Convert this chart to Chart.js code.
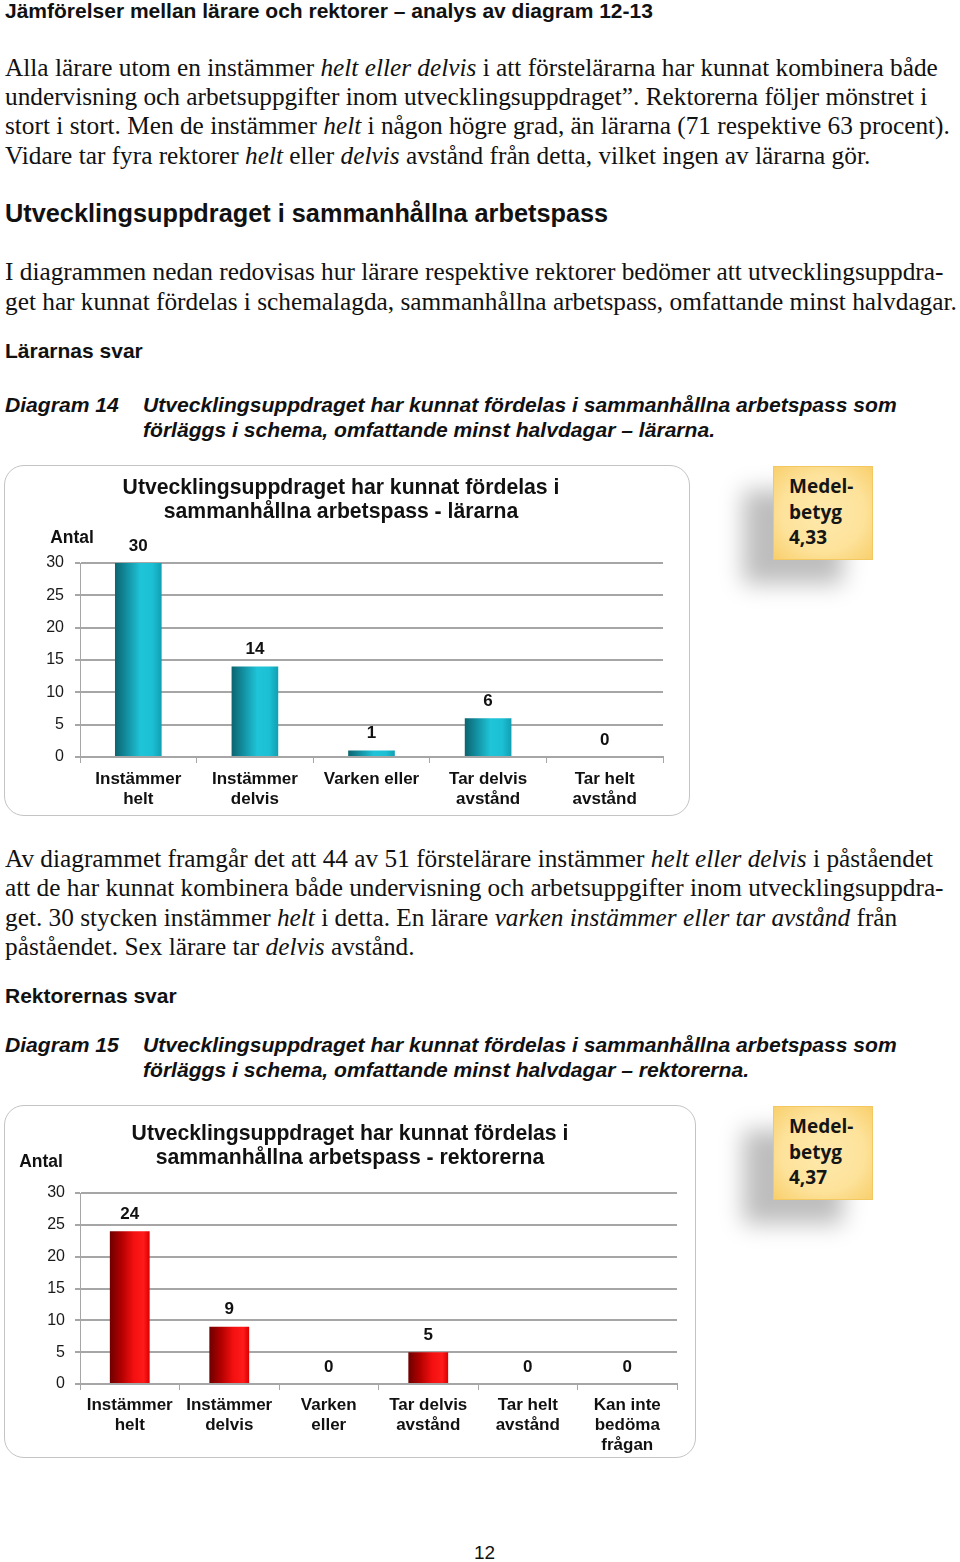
<!DOCTYPE html>
<html lang="sv">
<head>
<meta charset="utf-8">
<script src="https://cdn.jsdelivr.net/npm/chart.js@4/dist/chart.umd.min.js"></script>
<style>
  html,body{margin:0;padding:0;background:#fff;}
  body{width:960px;height:1562px;position:relative;overflow:hidden;color:#111;}
  .ln{position:absolute;left:5px;white-space:nowrap;}
  .serif{font-family:"Liberation Serif","Times New Roman",serif;font-size:25.3px;line-height:30px;}
  .h{font-family:"Liberation Sans",Arial,sans-serif;font-weight:bold;}
  .cap{font-family:"Liberation Sans",Arial,sans-serif;font-weight:bold;font-style:italic;font-size:21.1px;line-height:25px;}
  .box{position:absolute;border:1px solid #c4c4c4;border-radius:20px;box-sizing:border-box;}
  .cv{position:absolute;}
  .medel{position:absolute;width:100px;height:94px;box-sizing:border-box;
    background:radial-gradient(ellipse at 50% 50%, #fee9ac 0%, #fde29a 60%, #f8cf6c 100%);
    border:1px solid #f3c860;
    box-shadow:-30px 24px 22px rgba(0,0,0,0.26);
    font-family:"Open Sans","Lato",sans-serif;font-weight:bold;font-size:19px;line-height:25.5px;color:#151515;
    padding:7px 0 0 15px;}
</style>
</head>
<body>
<div class="ln h" style="top:0px;font-size:21px;line-height:22px;">Jämförelser mellan lärare och rektorer – analys av diagram 12-13</div>

<div class="ln serif" style="top:52px;">Alla lärare utom en instämmer <i>helt eller delvis</i> i att förstelärarna har kunnat kombinera både</div>
<div class="ln serif" style="top:81px;">undervisning och arbetsuppgifter inom utvecklingsuppdraget”. Rektorerna följer mönstret i</div>
<div class="ln serif" style="top:110px;">stort i stort. Men de instämmer <i>helt</i> i någon högre grad, än lärarna (71 respektive 63 procent).</div>
<div class="ln serif" style="top:140px;">Vidare tar fyra rektorer <i>helt</i> eller <i>delvis</i> avstånd från detta, vilket ingen av lärarna gör.</div>

<div class="ln h" style="top:198px;font-size:25.3px;line-height:30px;">Utvecklingsuppdraget i sammanhållna arbetspass</div>

<div class="ln serif" style="top:256px;">I diagrammen nedan redovisas hur lärare respektive rektorer bedömer att utvecklingsuppdra-</div>
<div class="ln serif" style="top:286px;">get har kunnat fördelas i schemalagda, sammanhållna arbetspass, omfattande minst halvdagar.</div>

<div class="ln h" style="top:338px;font-size:21px;line-height:26px;">Lärarnas svar</div>

<div class="ln cap" style="top:392px;">Diagram 14</div>
<div class="ln cap" style="top:392px;left:143px;">Utvecklingsuppdraget har kunnat fördelas i sammanhållna arbetspass som</div>
<div class="ln cap" style="top:417px;left:143px;">förläggs i schema, omfattande minst halvdagar – lärarna.</div>

<div class="box" style="left:4px;top:465px;width:686px;height:351px;"></div>
<div class="cv" style="left:4px;top:465px;width:686px;height:351px;"><canvas id="c1"></canvas></div>
<div class="medel" style="left:773px;top:466px;">Medel-<br>betyg<br>4,33</div>

<div class="ln serif" style="top:843px;">Av diagrammet framgår det att 44 av 51 förstelärare instämmer <i>helt eller delvis</i> i påståendet</div>
<div class="ln serif" style="top:872px;">att de har kunnat kombinera både undervisning och arbetsuppgifter inom utvecklingsuppdra-</div>
<div class="ln serif" style="top:902px;">get. 30 stycken instämmer <i>helt</i> i detta. En lärare <i>varken instämmer eller tar avstånd</i> från</div>
<div class="ln serif" style="top:931px;">påståendet. Sex lärare tar <i>delvis</i> avstånd.</div>

<div class="ln h" style="top:983px;font-size:21px;line-height:26px;">Rektorernas svar</div>

<div class="ln cap" style="top:1032px;">Diagram 15</div>
<div class="ln cap" style="top:1032px;left:143px;">Utvecklingsuppdraget har kunnat fördelas i sammanhållna arbetspass som</div>
<div class="ln cap" style="top:1057px;left:143px;">förläggs i schema, omfattande minst halvdagar – rektorerna.</div>

<div class="box" style="left:4px;top:1105px;width:692px;height:353px;"></div>
<div class="cv" style="left:4px;top:1105px;width:692px;height:353px;"><canvas id="c2"></canvas></div>
<div class="medel" style="left:773px;top:1106px;">Medel-<br>betyg<br>4,37</div>

<div class="ln" style="left:474px;top:1541px;font-family:'Liberation Sans',Arial,sans-serif;font-size:19px;line-height:24px;">12</div>

<script>
// ---- Data ----
const teacherCategories = [["Instämmer","helt"],["Instämmer","delvis"],"Varken eller",["Tar delvis","avstånd"],["Tar helt","avstånd"]];
const teacherValues = [30, 14, 1, 6, 0];
const principalCategories = [["Instämmer","helt"],["Instämmer","delvis"],["Varken","eller"],["Tar delvis","avstånd"],["Tar helt","avstånd"],["Kan inte","bedöma","frågan"]];
const principalValues = [24, 9, 0, 5, 0, 0];
const teacherTitle = ["Utvecklingsuppdraget har kunnat fördelas i","sammanhållna arbetspass - lärarna"];
const principalTitle = ["Utvecklingsuppdraget har kunnat fördelas i","sammanhållna arbetspass - rektorerna"];
const yAxisLabel = "Antal";
const yMin = 0, yMax = 30, yStep = 5;

// ---- Styling helpers ----
const SANS = "'Liberation Sans', Arial, sans-serif";
const GRID = "#a6a6a6";
const BAR_FRAC = 0.4;

function gradientFill(stops, fallback){
  return function(ctx){
    const chart = ctx.chart;
    const xs = chart.scales && chart.scales.x;
    if(!xs || !chart.chartArea) return fallback;
    const n = chart.data.labels.length;
    const cx = xs.getPixelForValue(ctx.dataIndex);
    const w = (xs.right - xs.left) / n * BAR_FRAC;
    const g = chart.ctx.createLinearGradient(cx - w/2, 0, cx + w/2, 0);
    stops.forEach(s => g.addColorStop(s[0], s[1]));
    return g;
  };
}
const tealStops = [[0,"#0c6470"],[0.25,"#128fa0"],[0.55,"#1fc4d8"],[0.8,"#1cc0d5"],[1,"#119fb2"]];
const redStops  = [[0,"#6e0000"],[0.3,"#b40000"],[0.6,"#f41010"],[0.85,"#ff1a1a"],[1,"#d90000"]];

const valueLabels = {
  id:'valueLabels',
  afterDatasetsDraw(chart){
    const c = chart.ctx;
    const meta = chart.getDatasetMeta(0);
    const ds = chart.data.datasets[0];
    c.save();
    c.font = "bold 17px " + SANS;
    c.fillStyle = "#111";
    c.textAlign = "center";
    c.textBaseline = "middle";
    meta.data.forEach((el, i) => {
      c.fillText(String(ds.data[i]), el.x, el.y - 17);
    });
    c.restore();
  }
};
const axisCaption = {
  id:'axisCaption',
  afterDraw(chart, args, opts){
    const c = chart.ctx;
    const a = chart.chartArea;
    c.save();
    c.font = "bold 17.5px " + SANS;
    c.fillStyle = "#111";
    c.textAlign = "center";
    c.textBaseline = "middle";
    c.fillText(opts.text, a.left + opts.dx, a.top + opts.dy);
    c.restore();
  }
};

function makeChart(id, labels, values, title, stops, fallback, geo){
  return new Chart(document.getElementById(id), {
    type:'bar',
    data:{ labels: labels,
      datasets:[{ data: values, backgroundColor: gradientFill(stops, fallback),
        borderWidth:0, barPercentage: BAR_FRAC, categoryPercentage: 1 }] },
    options:{
      responsive:true, maintainAspectRatio:false, animation:false,
      layout:{ padding:{ left:geo.padL, right:geo.padR, top:0, bottom:0 } },
      plugins:{
        legend:{display:false}, tooltip:{enabled:false},
        title:{ display:true, text:title, color:"#111",
          font:{family:SANS, size:21.2, weight:'bold', lineHeight:'24px'},
          padding:{top:geo.titleTop, bottom:geo.titleBottom} },
        axisCaption:{ text:yAxisLabel, dx:geo.capDx, dy:geo.capDy }
      },
      scales:{
        x:{
          grid:{ display:true, drawOnChartArea:false, drawTicks:true, tickLength:6, color:GRID, lineWidth:1, offset:true },
          border:{ display:true, color:GRID, width:2 },
          ticks:{ color:"#111", font:{family:SANS, size:17, weight:'bold', lineHeight:'20px'}, padding:geo.xPad, maxRotation:0, autoSkip:false },
          afterFit(s){ s.height = geo.xH; }
        },
        y:{
          min:yMin, max:yMax,
          grid:{ color:GRID, lineWidth:2, tickLength:5, drawTicks:true },
          border:{ display:true, color:GRID, width:1 },
          ticks:{ stepSize:yStep, color:"#1a1a1a", font:{family:SANS, size:16}, padding:geo.tickPad },
          afterFit(s){ s.width = geo.yW; }
        }
      }
    },
    plugins:[valueLabels, axisCaption]
  });
}

makeChart('c1', teacherCategories, teacherValues, teacherTitle, tealStops, "#17b0c4",
  {padL:15, padR:27, yW:61, xH:59, titleTop:11, titleBottom:39, capDx:-8, capDy:-25, tickPad:11, xPad:6});
makeChart('c2', principalCategories, principalValues, principalTitle, redStops, "#e00000",
  {padL:19, padR:19, yW:57, xH:74, titleTop:17, titleBottom:23, capDx:-39, capDy:-31, tickPad:10, xPad:5});
</script>
</body>
</html>
